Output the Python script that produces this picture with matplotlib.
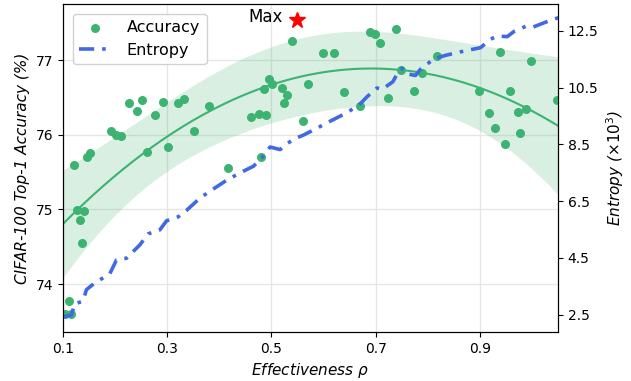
import numpy as np
import matplotlib
matplotlib.use("Agg")
import matplotlib.pyplot as plt

# ---- data ----
rho_acc = [0.1046, 0.1115, 0.1162, 0.1215, 0.1269, 0.1321, 0.1365, 0.1412, 0.1465, 0.1513,
           0.1913, 0.2023, 0.2115, 0.2263, 0.2412, 0.2508, 0.2615, 0.2763, 0.2912, 0.3008,
           0.3212, 0.3315, 0.3508, 0.3808, 0.4158, 0.4600, 0.4758, 0.4798, 0.4850, 0.4904,
           0.4956, 0.5013, 0.5206, 0.5250, 0.5302, 0.5404, 0.5600, 0.5696, 0.5994, 0.6192,
           0.6392, 0.6692, 0.6885, 0.6994, 0.7090, 0.7238, 0.7392, 0.7481, 0.7738, 0.7892,
           0.8181, 0.8981, 0.9183, 0.9283, 0.9379, 0.9485, 0.9577, 0.9731, 0.9777, 0.9885,
           0.9975, 1.0475]
accuracy = [73.60, 73.78, 73.60, 75.59, 74.99, 74.86, 74.55, 74.98, 75.70, 75.75,
            76.05, 76.00, 75.99, 76.42, 76.32, 76.47, 75.77, 76.27, 76.44, 75.83,
            76.43, 76.48, 76.05, 76.38, 75.56, 76.24, 76.28, 75.70, 76.61, 76.27,
            76.75, 76.68, 76.63, 76.42, 76.53, 77.25, 76.18, 76.68, 77.10, 77.09,
            76.57, 76.39, 77.38, 77.35, 77.23, 76.49, 77.41, 76.87, 76.59, 76.82,
            77.05, 76.59, 76.29, 76.09, 77.11, 75.87, 76.59, 76.30, 76.03, 76.34,
            76.99, 76.47]

rho_ent = [0.1004, 0.1033, 0.1162, 0.1225, 0.1385, 0.1450, 0.1610, 0.1898, 0.2027, 0.2219,
           0.2475, 0.2635, 0.2860, 0.2988, 0.3212, 0.3373, 0.3629, 0.3885, 0.4142, 0.4398,
           0.4654, 0.4815, 0.4975, 0.5167, 0.5302, 0.5456, 0.5615, 0.5840, 0.6129, 0.6385,
           0.6667, 0.6835, 0.7027, 0.7123, 0.7331, 0.7442, 0.7508, 0.7604, 0.7763, 0.7860,
           0.8115, 0.8340, 0.8692, 0.9013, 0.9206, 0.9335, 0.9527, 0.9654, 0.9879, 1.0013,
           1.0263, 1.0513]
entropy = [2.45, 2.43, 2.49, 2.88, 2.98, 3.38, 3.62, 3.94, 4.43, 4.49,
           4.96, 5.35, 5.49, 5.81, 5.95, 6.18, 6.61, 6.93, 7.24, 7.50,
           7.73, 8.03, 8.41, 8.32, 8.53, 8.71, 8.83, 9.04, 9.32, 9.56,
           9.86, 10.18, 10.49, 10.44, 10.71, 11.08, 11.18, 10.99, 10.93, 11.15,
           11.51, 11.64, 11.79, 11.91, 12.21, 12.32, 12.30, 12.48, 12.66, 12.63,
           12.81, 12.97]

max_rho, max_acc = 0.55, 77.53
x_ticks = [0.1, 0.3, 0.5, 0.7, 0.9]
acc_ticks = [74, 75, 76, 77]
ent_ticks = [2.5, 4.5, 6.5, 8.5, 10.5, 12.5]

# ---- quadratic fit with band ----
xa = np.array(rho_acc); ya = np.array(accuracy)
coef, cov = np.polyfit(xa, ya, 2, cov=True)
resid = ya - np.polyval(coef, xa)
s2 = np.sum(resid ** 2) / (len(xa) - 3)
xs = np.linspace(0.1, 1.05, 200)
X = np.vstack([xs ** 2, xs, np.ones_like(xs)]).T
fit = X @ coef
se_fit2 = np.einsum('ij,jk,ik->i', X, cov, X)
half = 4.3 * np.sqrt(se_fit2 + 0.018 * s2)

green = '#3CB371'
blue = '#4169E1'

fig = plt.figure(figsize=(6.31, 3.81), dpi=100)
ax = fig.add_axes([0.0998, 0.1286, 0.7845, 0.8609])
ax2 = ax.twinx()

ax.fill_between(xs, fit - half, fit + half, color=green, alpha=0.2, lw=0)
ax.plot(xs, fit, color=green, lw=1.5)
sc = ax.scatter(rho_acc, accuracy, s=30, color=green, zorder=3, label='Accuracy')
ax.plot([max_rho], [max_acc], marker='*', color='red', ms=12, ls='none', zorder=4)
ax.text(max_rho - 0.028, max_acc + 0.05, 'Max', fontsize=12, ha='right', va='center')

ln, = ax2.plot(rho_ent, entropy, color=blue, lw=2.6, ls=(0, (4.2, 2.2, 1, 2.2)),
               label='Entropy')

ax.set_xlim(0.1, 1.05)
ax.set_ylim(73.36, 77.75)
ax2.set_ylim(1.89, 13.45)
ax.set_xticks(x_ticks)
ax.set_xticklabels([f'{v:.1f}' for v in x_ticks])
ax.set_yticks(acc_ticks)
ax2.set_yticks(ent_ticks)
ax.tick_params(labelsize=10)
ax2.tick_params(labelsize=10)
ax.grid(True, color='#e6e6e6', lw=1)
ax.set_axisbelow(True)

ax.set_xlabel(r'Effectiveness $\rho$', fontsize=11, style='italic')
ax.set_ylabel('CIFAR-100 Top-1 Accuracy (%)', fontsize=11, style='italic')
ax2.set_ylabel(r'Entropy ($\times10^3$)', fontsize=11, style='italic')

ax2.legend([sc, ln], ['Accuracy', 'Entropy'], loc='upper left', fontsize=11.5,
           bbox_to_anchor=(0.0, 1.0), borderaxespad=0.6, framealpha=0.9,
           handletextpad=1.0)

fig.savefig('out.png', dpi=100)
